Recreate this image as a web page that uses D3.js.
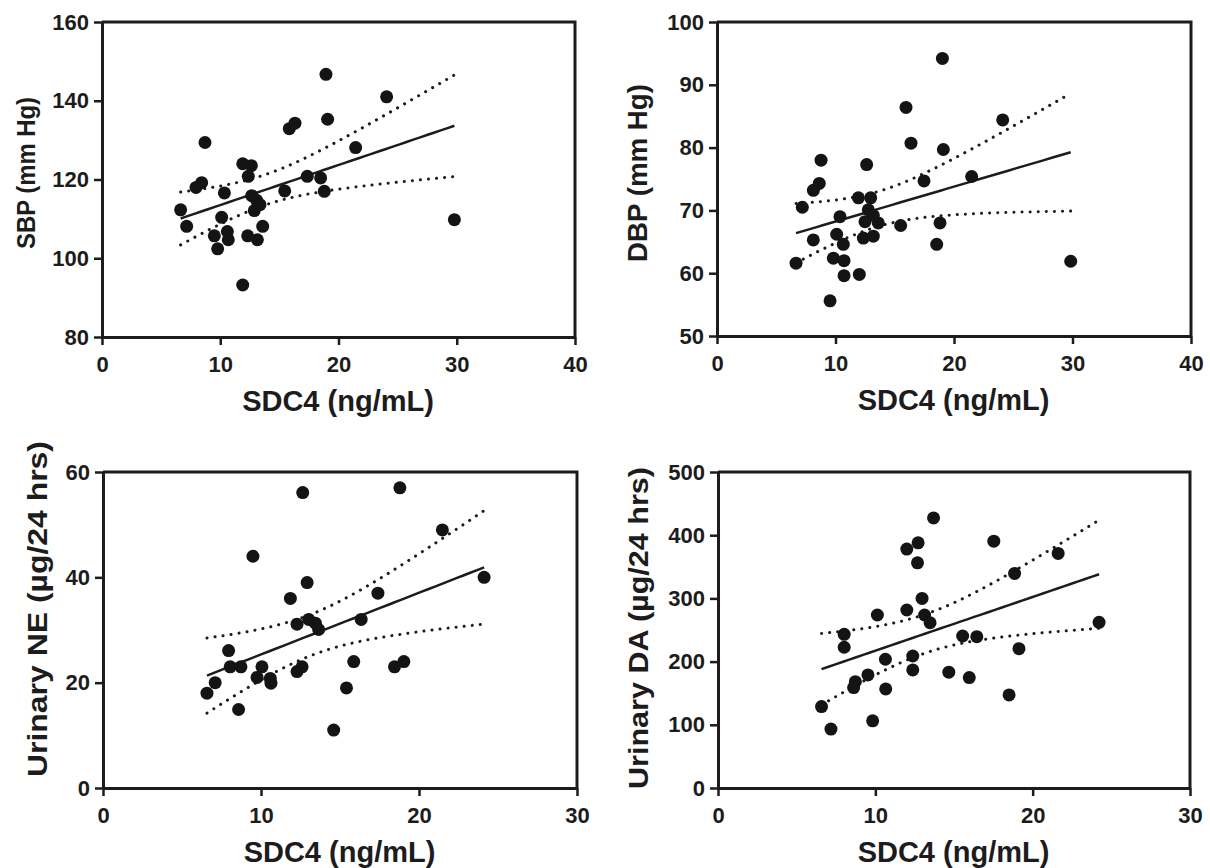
<!DOCTYPE html>
<html>
<head>
<meta charset="utf-8">
<script src="https://cdn.jsdelivr.net/npm/d3@7"></script>
<style>
  body { margin: 0; background: #fff; }
  svg text { font-family: "Liberation Sans", Arial, sans-serif; font-weight: bold; fill: #1c1c1c; }
  svg .tick text { font-size: 22px; }
</style>
</head>
<body>
<div id="chart"></div>
<script>
// SDC4 vs SBP
const sbpX = [18.94, 24.07, 19.08, 15.84, 16.32, 8.71, 21.45, 11.9, 12.63, 12.37, 17.36, 18.49, 8.43, 7.95,
  10.35, 15.45, 18.8, 12.66, 13.08, 13.36, 6.65, 12.88, 10.12, 7.16, 13.59, 10.6, 10.68, 9.5, 12.32, 13.14, 9.78, 11.9, 29.8];
const sbpY = [146.7, 141.0, 135.3, 132.9, 134.3, 129.4, 128.1, 124.0, 123.5, 120.8, 120.8, 120.4, 119.2, 118.0,
  116.6, 117.1, 117.0, 115.9, 114.7, 113.6, 112.3, 112.1, 110.4, 108.1, 108.1, 106.8, 104.7, 105.7, 105.7, 104.7, 102.4, 93.2, 109.8];

// SDC4 vs DBP
const dbpX = [19.02, 15.95, 24.11, 16.37, 19.1, 8.78, 12.63, 17.47, 21.49, 8.63, 8.13, 7.2, 11.93, 12.97, 10.38,
  12.77, 12.49, 13.61, 13.19, 15.5, 18.82, 10.1, 8.13, 10.66, 12.35, 13.19, 18.54, 6.67, 9.82, 10.72, 10.72, 12.01, 9.54, 29.85];
const dbpY = [94.2, 86.4, 84.4, 80.7, 79.7, 78.0, 77.3, 74.7, 75.4, 74.3, 73.2, 70.5, 72.0, 72.0, 69.0,
  70.1, 68.2, 68.0, 69.2, 67.6, 68.0, 66.2, 65.3, 64.6, 65.6, 65.9, 64.6, 61.6, 62.4, 62.0, 59.6, 59.8, 55.6, 61.9];

// SDC4 vs urinary NE
const neX = [18.79, 12.64, 21.48, 9.49, 12.92, 24.12, 11.86, 17.4, 13.02, 12.28, 13.44, 13.65, 16.34, 7.95,
  8.05, 8.73, 10.06, 9.75, 10.59, 10.63, 12.28, 12.6, 15.87, 18.45, 19.04, 7.1, 6.58, 15.41, 8.58, 14.6];
const neY = [57.0, 56.1, 49.0, 44.0, 39.0, 40.0, 36.0, 37.0, 32.0, 31.1, 31.3, 30.1, 32.0, 26.1,
  23.0, 23.0, 23.0, 21.0, 20.8, 19.9, 22.1, 23.0, 24.0, 23.0, 24.0, 20.0, 18.0, 19.0, 14.9, 11.0];

// SDC4 vs urinary DA
const daX = [13.7, 12.0, 12.72, 17.53, 12.68, 21.62, 18.85, 12.97, 10.13, 12.0, 13.13, 13.48, 8.02, 8.02, 24.22,
  15.55, 16.45, 19.13, 10.64, 12.38, 12.38, 14.67, 15.97, 9.53, 8.73, 8.62, 10.66, 18.5, 6.58, 9.83, 7.18];
const daY = [427.4, 378.0, 387.9, 390.6, 356.3, 371.1, 339.5, 300.0, 273.7, 281.6, 273.7, 261.5, 243.2, 222.7, 262.2,
  240.5, 239.4, 220.5, 203.7, 208.9, 186.8, 183.2, 174.7, 178.9, 168.3, 158.9, 156.8, 147.3, 128.9, 106.3, 93.2];

const xTicks40 = [0, 10, 20, 30, 40];
const xTicks30 = [0, 10, 20, 30];
const sbpTicks = [80, 100, 120, 140, 160];
const dbpTicks = [50, 60, 70, 80, 90, 100];
const neTicks = [0, 20, 40, 60];
const daTicks = [0, 100, 200, 300, 400, 500];

const xTitle = 'SDC4 (ng/mL)';

const panels = [
  { xs: sbpX, ys: sbpY, xTicks: xTicks40, yTicks: sbpTicks, title: 'SBP (mm Hg)',
    left: 102, right: 575, top: 22, bottom: 337, titleX: 35, titleLen: 152, titleSize: 26, titleY: 173 },
  { xs: dbpX, ys: dbpY, xTicks: xTicks40, yTicks: dbpTicks, title: 'DBP (mm Hg)',
    left: 717, right: 1191, top: 22, bottom: 336, titleX: 647, titleLen: 178, titleSize: 27, titleY: 173 },
  { xs: neX, ys: neY, xTicks: xTicks30, yTicks: neTicks, title: 'Urinary NE (\u00b5g/24 hrs)',
    left: 103, right: 577, top: 472, bottom: 788, titleX: 47, titleLen: 336, titleSize: 27, titleY: 609 },
  { xs: daX, ys: daY, xTicks: xTicks30, yTicks: daTicks, title: 'Urinary DA (\u00b5g/24 hrs)',
    left: 718, right: 1190, top: 472, bottom: 788, titleX: 648, titleLen: 322, titleSize: 27, titleY: 628 }
];

const svg = d3.select('#chart')
  .append('svg')
  .attr('width', 1210)
  .attr('height', 868);

svg.append('rect').attr('width', 1210).attr('height', 868).attr('fill', '#fff');

// least squares fit + 95% confidence band of the mean
function fitLine(xs, ys) {
  const n = xs.length;
  const xm = d3.mean(xs), ym = d3.mean(ys);
  let sxx = 0, sxy = 0;
  xs.forEach((x, i) => { sxx += (x - xm) ** 2; sxy += (x - xm) * (ys[i] - ym); });
  const b = sxy / sxx, a = ym - b * xm;
  let sse = 0;
  xs.forEach((x, i) => { sse += (ys[i] - a - b * x) ** 2; });
  const s = Math.sqrt(sse / (n - 2));
  const t = 1.96 + 2.4 / (n - 2);
  const half = x => t * s * Math.sqrt(1 / n + (x - xm) ** 2 / sxx);
  return { a, b, half };
}

panels.forEach(p => {
  const x = d3.scaleLinear().domain(d3.extent(p.xTicks)).range([p.left, p.right]);
  const y = d3.scaleLinear().domain(d3.extent(p.yTicks)).range([p.bottom, p.top]);
  const g = svg.append('g');

  // frame top/right
  g.append('path')
    .attr('d', `M${p.left},${p.top}H${p.right}V${p.bottom}`)
    .attr('fill', 'none')
    .attr('stroke', '#1c1c1c')
    .attr('stroke-width', 3);

  const xAxis = g.append('g')
    .attr('transform', `translate(0,${p.bottom})`)
    .call(d3.axisBottom(x).tickValues(p.xTicks).tickSize(8).tickSizeOuter(0).tickPadding(11));
  const yAxis = g.append('g')
    .attr('transform', `translate(${p.left},0)`)
    .call(d3.axisLeft(y).tickValues(p.yTicks).tickSize(8).tickSizeOuter(0).tickPadding(5));

  [xAxis, yAxis].forEach(ax => {
    ax.attr('font-size', null).attr('font-family', null);
    ax.select('.domain').attr('stroke', '#1c1c1c').attr('stroke-width', 3);
    ax.selectAll('.tick line').attr('stroke', '#1c1c1c').attr('stroke-width', 2.5);
    ax.selectAll('.tick text').attr('fill', '#1c1c1c');
  });

  // regression and CI
  const fit = fitLine(p.xs, p.ys);
  const [x0, x1] = d3.extent(p.xs);
  const xsGrid = d3.range(0, 41).map(i => x0 + (x1 - x0) * i / 40);
  const line = d3.line().x(d => x(d[0])).y(d => y(d[1]));

  g.append('path')
    .attr('d', line(xsGrid.map(v => [v, fit.a + fit.b * v])))
    .attr('fill', 'none').attr('stroke', '#1c1c1c').attr('stroke-width', 2.5);

  [1, -1].forEach(sign => {
    g.append('path')
      .attr('d', line(xsGrid.map(v => [v, fit.a + fit.b * v + sign * fit.half(v)])))
      .attr('fill', 'none').attr('stroke', '#1c1c1c').attr('stroke-width', 3)
      .attr('stroke-linecap', 'round').attr('stroke-dasharray', '0.1,8');
  });

  g.append('g')
    .selectAll('circle')
    .data(p.xs.map((v, i) => [v, p.ys[i]]))
    .join('circle')
    .attr('cx', d => x(d[0]))
    .attr('cy', d => y(d[1]))
    .attr('r', 6.5)
    .attr('fill', '#141414');

  // titles
  g.append('text')
    .attr('x', (p.left + p.right) / 2 - 0.5)
    .attr('y', p.bottom + 74)
    .attr('text-anchor', 'middle')
    .style('font-size', '29px')
    .text(xTitle);

  g.append('text')
    .attr('transform', `translate(${p.titleX},${p.titleY}) rotate(-90)`)
    .attr('text-anchor', 'middle')
    .style('font-size', p.titleSize + 'px')
    .attr('textLength', p.titleLen)
    .attr('lengthAdjust', 'spacingAndGlyphs')
    .text(p.title);
});
</script>
</body>
</html>
